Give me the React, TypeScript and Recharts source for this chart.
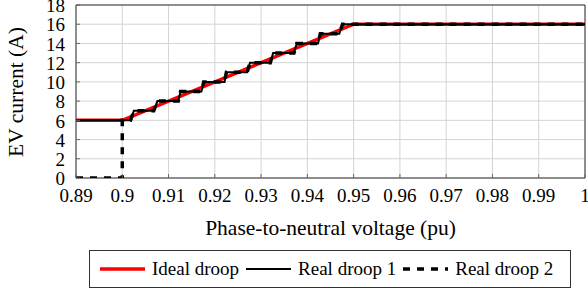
import React from "react";
import { LineChart, Line, XAxis, YAxis, CartesianGrid, ReferenceArea } from "recharts";

const xTicks = [0.89, 0.9, 0.91, 0.92, 0.93, 0.94, 0.95, 0.96, 0.97, 0.98, 0.99, 1];
const yTicks = [0, 2, 4, 6, 8, 10, 12, 14, 16, 18];

const idealV = [0.89, 0.9, 0.95, 1.0];
const idealI = [6, 6, 16, 16];

const real1V = [0.89, 0.9, 0.9018, 0.9025, 0.9068, 0.9076, 0.9121, 0.9126, 0.9171, 0.9176, 0.9221, 0.9225, 0.927, 0.9276, 0.932, 0.9326, 0.9371, 0.9377, 0.9423, 0.9428, 0.9469, 0.9476, 1.0];
const real1I = [6, 6, 6, 7, 7, 8, 8, 9, 9, 10, 10, 11, 11, 12, 12, 13, 13, 14, 14, 15, 15, 16, 16];

const real2V = [0.89, 0.9, 0.9, 0.9018, 0.9025, 0.9068, 0.9076, 0.9121, 0.9126, 0.9171, 0.9176, 0.9221, 0.9225, 0.927, 0.9276, 0.932, 0.9326, 0.9371, 0.9377, 0.9423, 0.9428, 0.9469, 0.9476, 1.0];
const real2I = [0, 0, 6, 6, 7, 7, 8, 8, 9, 9, 10, 10, 11, 11, 12, 12, 13, 13, 14, 14, 15, 15, 16, 16];

const toData = (vs: number[], is: number[]) => vs.map((v, k) => ({ v, i: is[k] }));
const idealData = toData(idealV, idealI);
const real1Data = toData(real1V, real1I);
const real2Data = toData(real2V, real2I);

const FONT = "'Liberation Serif', 'Times New Roman', serif";
const textStyle = { fontFamily: FONT };

const renderXTick = (props: any) => {
  const { x, y, payload } = props;
  return (
    <g key={`xt-${payload.value}`}>
      <line x1={x} x2={x} y1={y} y2={y - 4} stroke="#666" strokeWidth={1} />
      <text x={x} y={y + 24} textAnchor="middle" fontSize={19} fontFamily={FONT} style={textStyle} fill="#000">
        {String(payload.value)}
      </text>
    </g>
  );
};

const renderYTick = (props: any) => {
  const { x, y, payload } = props;
  return (
    <g key={`yt-${payload.value}`}>
      <line x1={x} x2={x + 4} y1={y} y2={y} stroke="#666" strokeWidth={1} />
      <text x={x - 11} y={y} dy="0.38em" textAnchor="end" fontSize={19} fontFamily={FONT} style={textStyle} fill="#000">
        {String(payload.value)}
      </text>
    </g>
  );
};

const XLabel = (props: any) => {
  const { viewBox } = props;
  const { x, y, width } = viewBox;
  return (
    <text x={x + width / 2} y={y + 57} textAnchor="middle" fontSize={21.5} style={textStyle} fill="#000">
      Phase-to-neutral voltage (pu)
    </text>
  );
};

const YLabel = () => (
  <text
    x={15}
    y={92}
    dy="0.35em"
    textAnchor="middle"
    fontSize={21.5}
    style={textStyle}
    fill="#000"
    transform="rotate(-90, 15, 92)"
  >
    EV current (A)
  </text>
);

const legendItems = [
  { name: "Ideal droop", color: "#ff0000", width: 3.5, dash: undefined as string | undefined },
  { name: "Real droop 1", color: "#000", width: 2, dash: undefined as string | undefined },
  { name: "Real droop 2", color: "#000", width: 3.5, dash: "7 7" },
];

export default function App() {
  return (
    <div style={{ position: "absolute", left: 0, top: 0, width: 588, height: 293, background: "#fff" }}>
      <LineChart width={588} height={293} margin={{ top: 5, right: 3, left: 0, bottom: 0 }} style={textStyle}>
        <CartesianGrid stroke="#d4d4d4" strokeWidth={1} horizontalValues={yTicks} verticalValues={xTicks} />
        <XAxis
          type="number"
          dataKey="v"
          domain={[0.89, 1]}
          ticks={xTicks}
          allowDataOverflow
          height={115}
          tickSize={0}
          tickMargin={0}
          tickLine={false}
          axisLine={false}
          tick={renderXTick}
          label={<XLabel />}
          interval={0}
        />
        <YAxis
          type="number"
          dataKey="i"
          domain={[0, 18]}
          ticks={yTicks}
          allowDataOverflow
          width={76}
          tickSize={0}
          tickMargin={0}
          tickLine={false}
          axisLine={false}
          tick={renderYTick}
          interval={0}
        />
        <ReferenceArea x1={0.89} x2={1} y1={0} y2={18} fill="none" stroke="#333" strokeWidth={1} ifOverflow="visible" />
        <Line data={idealData} dataKey="i" type="linear" stroke="#ff0000" strokeWidth={3.5} dot={false} isAnimationActive={false} />
        <Line data={real1Data} dataKey="i" type="linear" stroke="#000" strokeWidth={2} dot={false} isAnimationActive={false} />
        <Line data={real2Data} dataKey="i" type="linear" stroke="#000" strokeWidth={3.5} strokeDasharray="7 7" dot={false} isAnimationActive={false} />
        <YLabel />
      </LineChart>
      <div
        style={{
          position: "absolute",
          left: 89,
          top: 250,
          width: 482,
          height: 38,
          border: "1px solid #333",
          boxSizing: "border-box",
          display: "flex",
          alignItems: "center",
          paddingLeft: 10,
          fontFamily: FONT,
          fontSize: 19,
          color: "#000",
          whiteSpace: "nowrap",
        }}
      >
        {legendItems.map((it) => (
          <div key={it.name} style={{ display: "flex", alignItems: "center", marginRight: 7 }}>
            <svg width={45} height={10} style={{ marginRight: 7 }}>
              <line x1={0} x2={45} y1={5} y2={5} stroke={it.color} strokeWidth={it.width} strokeDasharray={it.dash} />
            </svg>
            <span>{it.name}</span>
          </div>
        ))}
      </div>
    </div>
  );
}
